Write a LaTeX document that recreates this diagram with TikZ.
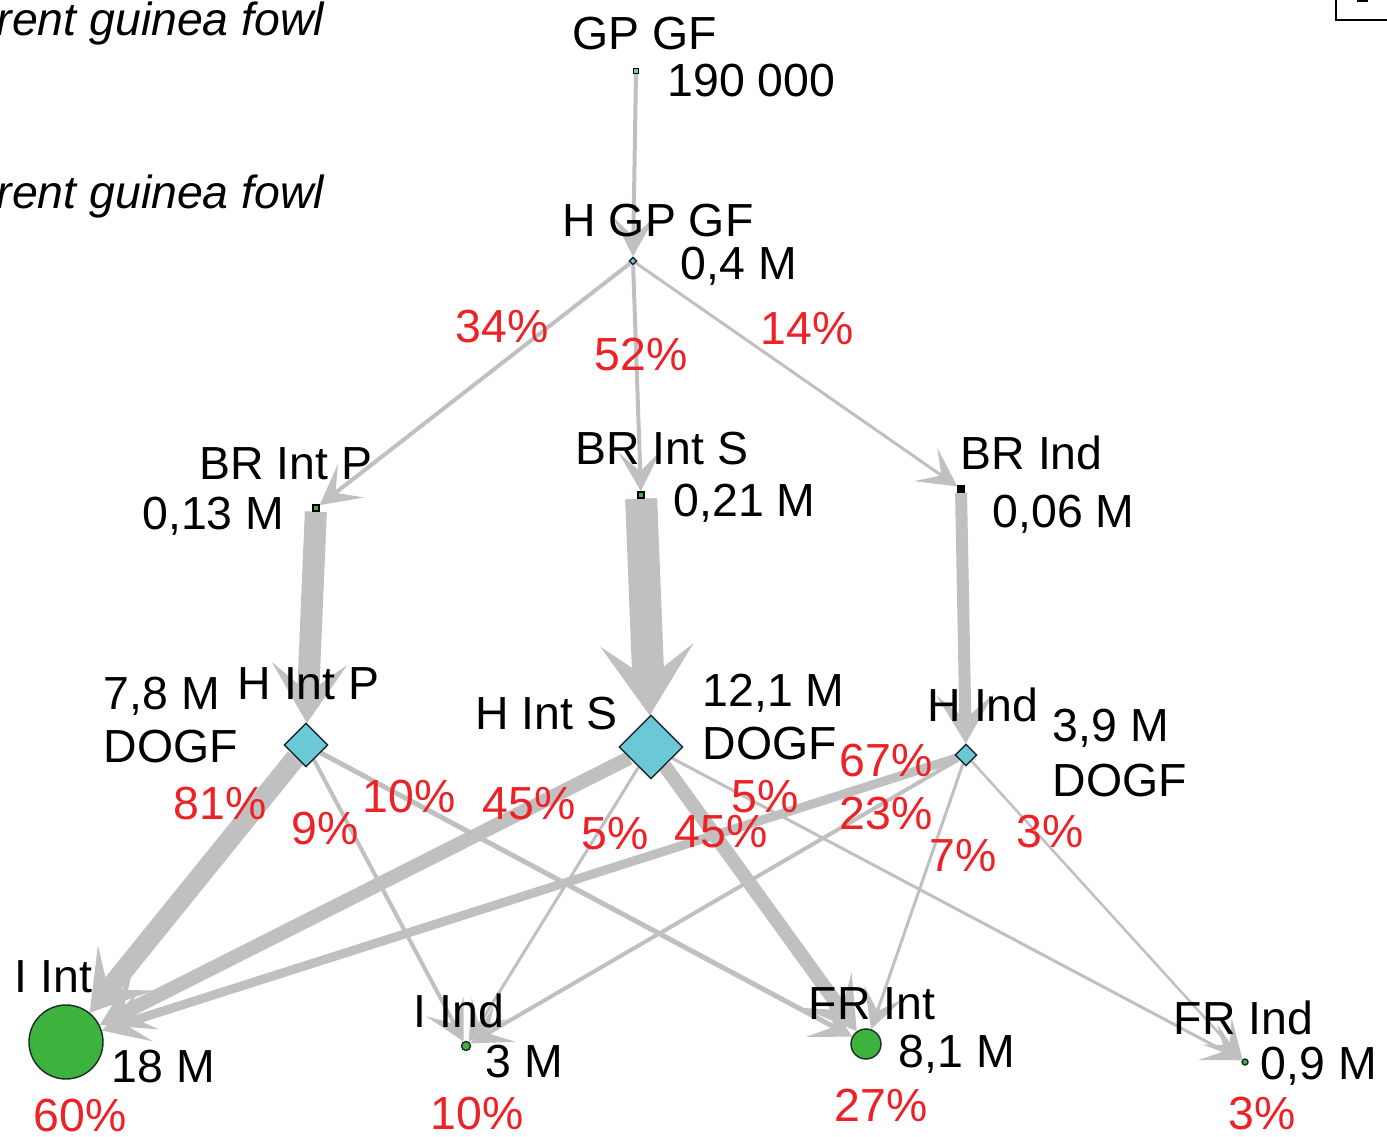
\documentclass[tikz,border=0pt]{standalone}
\usepackage{fontspec}
\setmainfont{Liberation Sans}
\usepackage{xcolor}
\usepackage{tikz}
\usetikzlibrary{arrows.meta,shapes.geometric,backgrounds}
\definecolor{cFlow}{HTML}{C0C0C0}
\definecolor{cPct}{HTML}{EC2227}
\definecolor{cHatch}{HTML}{6BC8D6}
\definecolor{cFarm}{HTML}{3DB33D}
\definecolor{cRim}{HTML}{1A2A2A}
\tikzset{
  flow/.style={draw=cFlow, line width=#1*0.01cm, -{Stealth[length=10pt 1.1, width=10pt 1.8, inset=5pt 0.5]}},
  hatch/.style={diamond, aspect=1, draw=cRim, fill=cHatch, inner sep=0pt, minimum size=#1*0.01cm},
  farm/.style={circle, draw=cRim, fill=cFarm, inner sep=0pt, minimum size=#1*0.01cm},
  stock/.style={rectangle, draw=black, fill=cFarm, inner sep=0pt, minimum size=0.06cm},
  txt/.style={font=\fontsize{13.2}{15}\selectfont, inner sep=0pt},
  pct/.style={txt, text=cPct, anchor=base},
}

\begin{document}
\begin{tikzpicture}[x=0.01cm, y=-0.01cm]
        \useasboundingbox (0,0) rectangle (1387,1137);
        \clip (0,0) rectangle (1387,1137);
        % stock and hatchery nodes
        \node[stock, fill=cHatch, minimum size=0.05cm] (gpgf) at (636,71){};
        \node[hatch=8] (hgpgf) at (633,261){};
        \node[stock] (brintp) at (316,508){};
        \node[stock] (brints) at (641,495){};
        \node[stock, fill=black] (brind) at (961,489){};
        \node[hatch=44] (hintp) at (306,745){};
        \node[hatch=64] (hints) at (651,747){};
        \node[hatch=22] (hind) at (966,755){};
        \node[farm=74] (iint) at (66,1042){};
        \node[farm=9] (iind) at (466,1046){};
        \node[farm=30] (frint) at (866,1044){};
        \node[farm=6] (frind) at (1245,1062){};
        % names and sizes
        \node[txt, anchor=base east] (lvlgp) at (325,36){\itshape rent guinea fowl};
        \node[txt, anchor=base east] (lvlp) at (325,209){\itshape rent guinea fowl};
        \node[txt, anchor=base] (ngpgf) at (645,50){GP GF};
        \node[txt, anchor=base west] (vgpgf) at (667,97){190 000};
        \node[txt, anchor=base] (nhgpgf) at (658,237){H GP GF};
        \node[txt, anchor=base west] (vhgpgf) at (680,280){0,4 M};
        \node[txt, anchor=base] (nbrintp) at (286,480){BR Int P};
        \node[txt, anchor=base east] (vbrintp) at (285,530){0,13 M};
        \node[txt, anchor=base] (nbrints) at (662,465){BR Int S};
        \node[txt, anchor=base west] (vbrints) at (673,517){0,21 M};
        \node[txt, anchor=base west] (nbrind) at (960,470){BR Ind};
        \node[txt, anchor=base west] (vbrind) at (992,528){0,06 M};
        \node[txt, anchor=base west] (nhintp) at (237,700){H Int P};
        \node[txt, anchor=base west] (vhintp) at (103,710){7,8 M};
        \node[txt, anchor=base west] (dhintp) at (103,763){DOGF};
        \node[txt, anchor=base east] (nhints) at (618,730){H Int S};
        \node[txt, anchor=base west] (vhints) at (702,707){12,1 M};
        \node[txt, anchor=base west] (dhints) at (702,760){DOGF};
        \node[txt, anchor=base west] (nhind) at (927,722){H Ind};
        \node[txt, anchor=base west] (vhind) at (1052,742){3,9 M};
        \node[txt, anchor=base west] (dhind) at (1052,797){DOGF};
        \node[txt, anchor=base west] (niint) at (14,993){I Int};
        \node[txt, anchor=base west] (viint) at (111,1083){18 M};
        \node[txt, anchor=base west] (niind) at (413,1028){I Ind};
        \node[txt, anchor=base west] (viind) at (485,1078){3 M};
        \node[txt, anchor=base west] (nfrint) at (808,1020){FR Int};
        \node[txt, anchor=base west] (vfrint) at (898,1068){8,1 M};
        \node[txt, anchor=base west] (nfrind) at (1173,1035){FR Ind};
        \node[txt, anchor=base west] (vfrind) at (1260,1080){0,9 M};
        % shares
        \node[pct] (p34) at (502,343){34\%};
        \node[pct] (p52) at (641,371){52\%};
        \node[pct] (p14) at (807,345){14\%};
        \node[pct] (p81) at (220,820){81\%};
        \node[pct] (p9) at (325,845){9\%};
        \node[pct] (p10) at (409,813){10\%};
        \node[pct] (p45a) at (529,820){45\%};
        \node[pct] (p5a) at (615,850){5\%};
        \node[pct] (p45b) at (721,848){45\%};
        \node[pct] (p5b) at (765,813){5\%};
        \node[pct] (p67) at (886,777){67\%};
        \node[pct] (p23) at (886,830){23\%};
        \node[pct] (p7) at (963,872){7\%};
        \node[pct] (p3a) at (1050,848){3\%};
        \node[pct] (s60) at (80,1132){60\%};
        \node[pct] (s10) at (477,1130){10\%};
        \node[pct] (s27) at (881,1122){27\%};
        \node[pct] (s3) at (1262,1130){3\%};
        % flows
        \begin{scope}[on background layer]
        \draw[flow=4](gpgf)--(hgpgf);
        \draw[flow=4](hgpgf)--(brintp); \draw[flow=4](hgpgf)--(brints); \draw[flow=3](hgpgf)--(brind);
        \draw[flow=22](brintp)--(hintp); \draw[flow=32](brints)--(hints); \draw[flow=12](brind)--(hind);
        \draw[flow=20](hintp)--(iint); \draw[flow=4](hintp)--(iind); \draw[flow=5](hintp)--(frint);
        \draw[flow=14](hints)--(iint); \draw[flow=3](hints)--(iind);
        \draw[flow=14](hints)--(frint); \draw[flow=3](hints)--(frind);
        \draw[flow=9](hind)--(iint); \draw[flow=4](hind)--(iind);
        \draw[flow=3](hind)--(frint); \draw[flow=2.5](hind)--(frind);
        \end{scope}
        \draw[line width=0.8pt] (1336,-10) rectangle (1400,20);
        \fill (1357,-2) rectangle (1368,2);
      \end{tikzpicture}
\end{document}
